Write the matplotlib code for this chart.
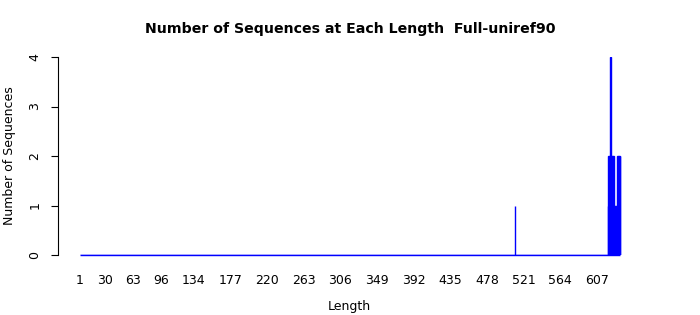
import numpy as np
import matplotlib
matplotlib.use('Agg')
import matplotlib.pyplot as plt

# lengths 1..634, all zero except a few
lengths = np.arange(1, 635)
peaks_len = [511, 620, 621, 622, 623, 624, 625, 626, 627, 628, 629, 630, 631, 632, 633, 634]
peaks_cnt = [1, 1, 2, 2, 4, 2, 2, 2, 1, 1, 1, 1, 2, 2, 2, 2]
counts = np.zeros(len(lengths))
for l, c in zip(peaks_len, peaks_cnt):
    counts[l - 1] = c

tick_labels = [1, 30, 63, 96, 134, 177, 220, 263, 306, 349, 392, 435, 478, 521, 564, 607]

px = 0.853  # pixels per length unit
fig = plt.figure(figsize=(7, 3.15), dpi=100)
ax = fig.add_axes([58/700, 1-255/315, (640-58)/700, (255-57)/315])

ax.bar(lengths, counts, width=1.0, color='#0000FF', edgecolor='#0000FF', linewidth=1.0)
# zero-height bars still show as a line in the original
ax.plot([lengths[0] - 0.5, lengths[-1] + 0.5], [0, 0], color='#0000FF', lw=1.0,
        clip_on=False, solid_capstyle='butt')

ax.set_xlim(1 - 22/px, 1 + (640-80)/px)
ax.set_ylim(0, 4)
for s in ['top', 'right', 'bottom']:
    ax.spines[s].set_visible(False)
ax.spines['left'].set_linewidth(0.8)
ax.set_yticks([0, 1, 2, 3, 4])
ax.set_yticklabels(['0', '1', '2', '3', '4'], rotation=90, va='center', fontsize=9)
ax.tick_params(axis='y', length=5, width=0.8, pad=7)
ax.set_xticks(tick_labels)
ax.set_xticklabels([str(t) for t in tick_labels], fontsize=9)
ax.tick_params(axis='x', length=0, pad=14)

ax.set_ylabel('Number of Sequences', fontsize=9, labelpad=9)
ax.set_xlabel('Length', fontsize=9, labelpad=9)
fig.suptitle('Number of Sequences at Each Length  Full-uniref90', fontsize=10.2,
             fontweight='bold', x=350/700, y=1-29/315, va='center')

fig.savefig('out.png', dpi=100)
